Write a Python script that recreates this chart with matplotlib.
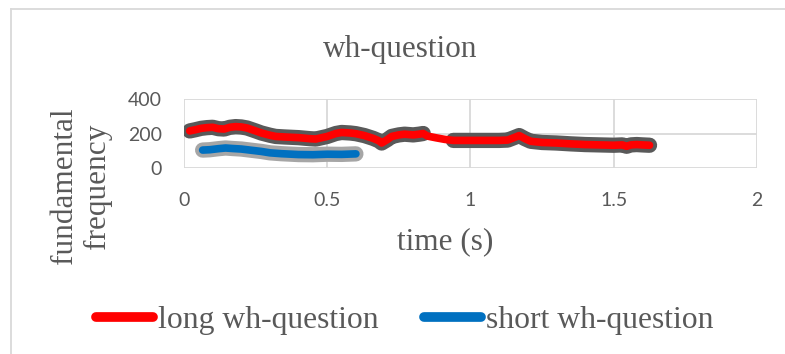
import numpy as np
import matplotlib
matplotlib.use("Agg")
import matplotlib.pyplot as plt
from matplotlib.lines import Line2D

# pitch track of the long wh-question (time in s, F0 in Hz)
long_t = [0.02, 0.04, 0.06, 0.08, 0.10, 0.12, 0.14, 0.16, 0.18, 0.20, 0.22,
          0.25, 0.27, 0.30, 0.32, 0.35, 0.40, 0.44, 0.46, 0.50, 0.53, 0.55,
          0.58, 0.60, 0.63, 0.66, 0.68, 0.69, 0.71, 0.725, 0.75, 0.77, 0.80,
          0.82, 0.835, 0.85, 0.88, 0.91, 0.94, 1.00, 1.05, 1.10, 1.13, 1.155,
          1.17, 1.19, 1.21, 1.25, 1.30, 1.35, 1.40, 1.45, 1.50, 1.53, 1.545,
          1.56, 1.58, 1.60, 1.625]
long_f = [215, 222, 230, 234, 236, 228, 226, 236, 240, 238, 232,
          215, 203, 190, 183, 180, 176, 170, 168, 183, 200, 206,
          203, 199, 188, 172, 158, 145, 165, 183, 192, 196, 192,
          196, 200, 185, 175, 166, 160, 160, 160, 160, 162, 178,
          188, 170, 155, 148, 145, 140, 136, 134, 132, 134, 126,
          134, 136, 134, 132]
# raw (voiced frames only) track, gap where no pitch was found
long_raw = [215, 222, 230, 234, 236, 228, 226, 236, 240, 238, 232,
            215, 203, 190, 183, 180, 176, 170, 168, 183, 200, 206,
            203, 199, 188, 172, 158, 145, 165, 183, 192, 196, 192,
            196, 200, None, None, None, 160, 160, 160, 160, 162, 178,
            188, 170, 155, 148, 145, 140, 136, 134, 132, 134, 126,
            134, 136, 134, 132]

# pitch track of the short wh-question
short_t = [0.065, 0.09, 0.12, 0.145, 0.17, 0.20, 0.23, 0.27, 0.30, 0.34,
           0.40, 0.45, 0.50, 0.55, 0.60]
short_f = [104, 106, 112, 116, 113, 110, 104, 96, 88, 83,
           78, 77, 80, 79, 82]

x_ticks = [0, 0.5, 1, 1.5, 2]
x_labels = ["0", "0.5", "1", "1.5", "2"]
y_ticks = [0, 200, 400]

serif = "Liberation Serif"
grey = "#595959"

fig = plt.figure(figsize=(7.85, 3.54), dpi=100, facecolor="white")
ax = fig.add_axes([0.2344, 0.5254, 0.7299, 0.1949])

raw = np.array([np.nan if v is None else v for v in long_raw], dtype=float)
ax.plot(long_t, raw, color="#595959", lw=11, solid_capstyle="round",
        solid_joinstyle="round", zorder=2)
ax.plot(long_t, long_f, color="#ff0000", lw=5.5, solid_capstyle="round",
        solid_joinstyle="round", zorder=3)
ax.plot(short_t, short_f, color="#a6a6a6", lw=11, solid_capstyle="round",
        solid_joinstyle="round", zorder=2)
ax.plot(short_t, short_f, color="#0070c0", lw=5.5, solid_capstyle="round",
        solid_joinstyle="round", zorder=3)

ax.set_xlim(0, 2)
ax.set_ylim(0, 400)
ax.set_xticks(x_ticks)
ax.set_xticklabels(x_labels)
ax.set_yticks(y_ticks)
ax.grid(True, color="#d9d9d9", lw=1.3)
ax.set_axisbelow(True)
for s in ax.spines.values():
    s.set_visible(False)
ax.tick_params(length=0, colors=grey, labelsize=14)
ax.tick_params(axis="x", pad=17)
ax.tick_params(axis="y", pad=16)
for lab in ax.get_xticklabels() + ax.get_yticklabels():
    lab.set_family("Lato")
    lab.set_color(grey)

fig.text(0.5096, 0.860, "wh-question", family=serif, size=22.5,
         color=grey, ha="center", va="center")
fig.text(0.567, 0.317, "time (s)", family=serif, size=22.5,
         color=grey, ha="center", va="center")
fig.text(81 / 785, 0.4746, "fundamental\nfrequency", family=serif, size=22.5,
         color=grey, ha="center", va="center", rotation=90,
         multialignment="center", linespacing=1.18)

handles = [Line2D([], [], color="#ff0000", lw=7, solid_capstyle="round"),
           Line2D([], [], color="#0070c0", lw=7, solid_capstyle="round")]
leg = fig.legend(handles, ["long wh-question", "short wh-question"],
                 loc="center left", bbox_to_anchor=(0.122, 0.094), ncol=2,
                 frameon=False, borderpad=0, borderaxespad=0,
                 handlelength=1.8, handletextpad=0.15, columnspacing=1.45,
                 prop={"family": serif, "size": 22.8})
for t in leg.get_texts():
    t.set_color(grey)

# chart area border (left and top edges)
fig.add_artist(Line2D([10.5 / 785, 10.5 / 785], [0, 1 - 9 / 354],
                      transform=fig.transFigure, color="#d9d9d9", lw=1.3))
fig.add_artist(Line2D([10.5 / 785, 1], [1 - 9 / 354, 1 - 9 / 354],
                      transform=fig.transFigure, color="#d9d9d9", lw=1.3))

fig.savefig("out.png", dpi=100, facecolor="white")
